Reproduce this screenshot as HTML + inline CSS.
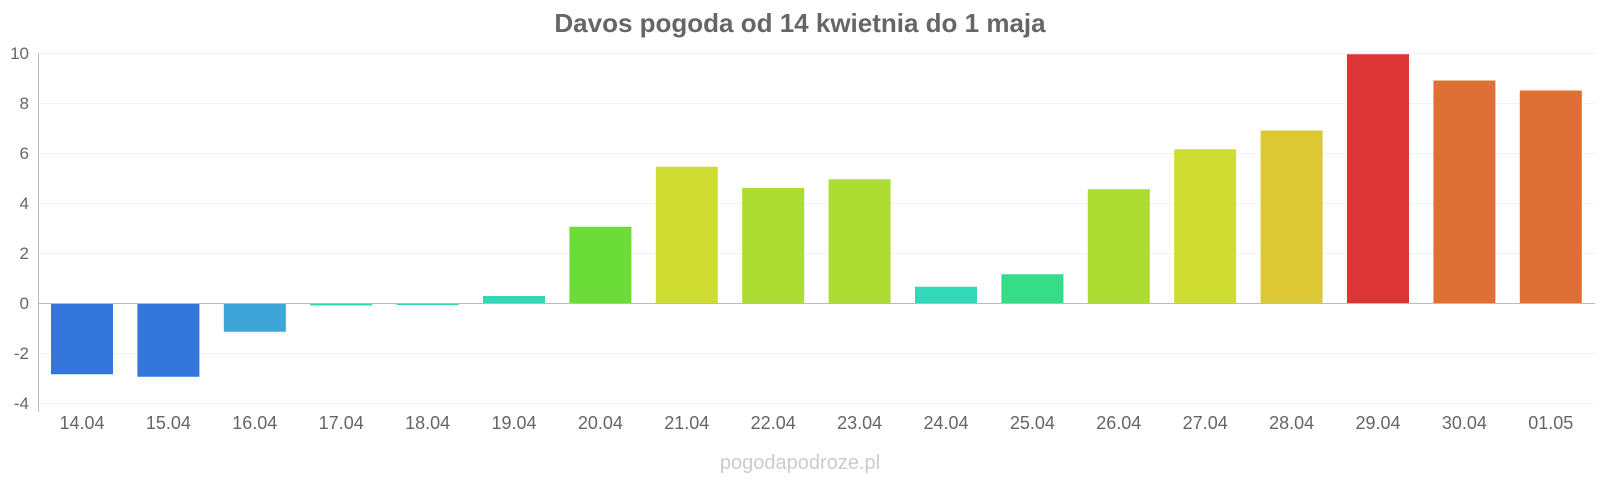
<!DOCTYPE html>
<html><head><meta charset="utf-8"><style>
body{margin:0;background:#fff;}
svg{display:block;font-family:"Liberation Sans",Arial,sans-serif;}
</style></head><body>
<svg width="1600" height="480" viewBox="0 0 1600 480">
<text x="800" y="32" text-anchor="middle" font-size="26" font-weight="bold" fill="#666">Davos pogoda od 14 kwietnia do 1 maja</text>
<g stroke="#f2f2f2" stroke-width="1">
<line x1="39" x2="1595" y1="53.5" y2="53.5"/>
<line x1="39" x2="1595" y1="103.5" y2="103.5"/>
<line x1="39" x2="1595" y1="153.5" y2="153.5"/>
<line x1="39" x2="1595" y1="203.5" y2="203.5"/>
<line x1="39" x2="1595" y1="253.5" y2="253.5"/>
<line x1="39" x2="1595" y1="353.5" y2="353.5"/>
<line x1="39" x2="1595" y1="403.5" y2="403.5"/>
</g>
<g font-size="17" fill="#666" text-anchor="end">
<text x="29" y="59">10</text><text x="29" y="109">8</text><text x="29" y="159">6</text>
<text x="29" y="209">4</text><text x="29" y="259">2</text><text x="29" y="309">0</text>
<text x="29" y="359">-2</text><text x="29" y="409">-4</text>
</g>
<g>
<rect x="51" y="303" width="62" height="71.25" fill="#3476d9"/>
<rect x="137.4" y="303" width="62" height="73.75" fill="#3476d9"/>
<rect x="223.8" y="303" width="62" height="28.75" fill="#3ea5d9"/>
<rect x="310.2" y="303" width="62" height="2.5" fill="#32d9b0"/>
<rect x="396.6" y="303" width="62" height="2" fill="#32d9b0"/>
<rect x="483" y="296" width="62" height="7" fill="#32d9b8"/>
<rect x="569.4" y="226.75" width="62" height="76.25" fill="#6cdd38"/>
<rect x="655.8" y="166.75" width="62" height="136.25" fill="#cfdd33"/>
<rect x="742.2" y="188" width="62" height="115" fill="#addd33"/>
<rect x="828.6" y="179.25" width="62" height="123.75" fill="#addd33"/>
<rect x="915" y="286.75" width="62" height="16.25" fill="#32d9b8"/>
<rect x="1001.4" y="274.25" width="62" height="28.75" fill="#36dd88"/>
<rect x="1087.8" y="189.25" width="62" height="113.75" fill="#addd33"/>
<rect x="1174.2" y="149.25" width="62" height="153.75" fill="#cfdd33"/>
<rect x="1260.6" y="130.5" width="62" height="172.5" fill="#dcc833"/>
<rect x="1347" y="54.25" width="62" height="248.75" fill="#dc3535"/>
<rect x="1433.4" y="80.5" width="62" height="222.5" fill="#de7035"/>
<rect x="1519.8" y="90.5" width="62" height="212.5" fill="#de7035"/>
</g>
<line x1="39" x2="1595" y1="303.5" y2="303.5" stroke="#bbb"/>
<line x1="38.5" x2="38.5" y1="53" y2="412" stroke="#bbb"/>
<g font-size="18" fill="#666" text-anchor="middle">
<text x="82" y="429">14.04</text><text x="168.4" y="429">15.04</text><text x="254.8" y="429">16.04</text>
<text x="341.2" y="429">17.04</text><text x="427.6" y="429">18.04</text><text x="514" y="429">19.04</text>
<text x="600.4" y="429">20.04</text><text x="686.8" y="429">21.04</text><text x="773.2" y="429">22.04</text>
<text x="859.6" y="429">23.04</text><text x="946" y="429">24.04</text><text x="1032.4" y="429">25.04</text>
<text x="1118.8" y="429">26.04</text><text x="1205.2" y="429">27.04</text><text x="1291.6" y="429">28.04</text>
<text x="1378" y="429">29.04</text><text x="1464.4" y="429">30.04</text><text x="1550.8" y="429">01.05</text>
</g>
<text x="800" y="469" text-anchor="middle" font-size="20" fill="#ccc">pogodapodroze.pl</text>
</svg>
</body></html>
